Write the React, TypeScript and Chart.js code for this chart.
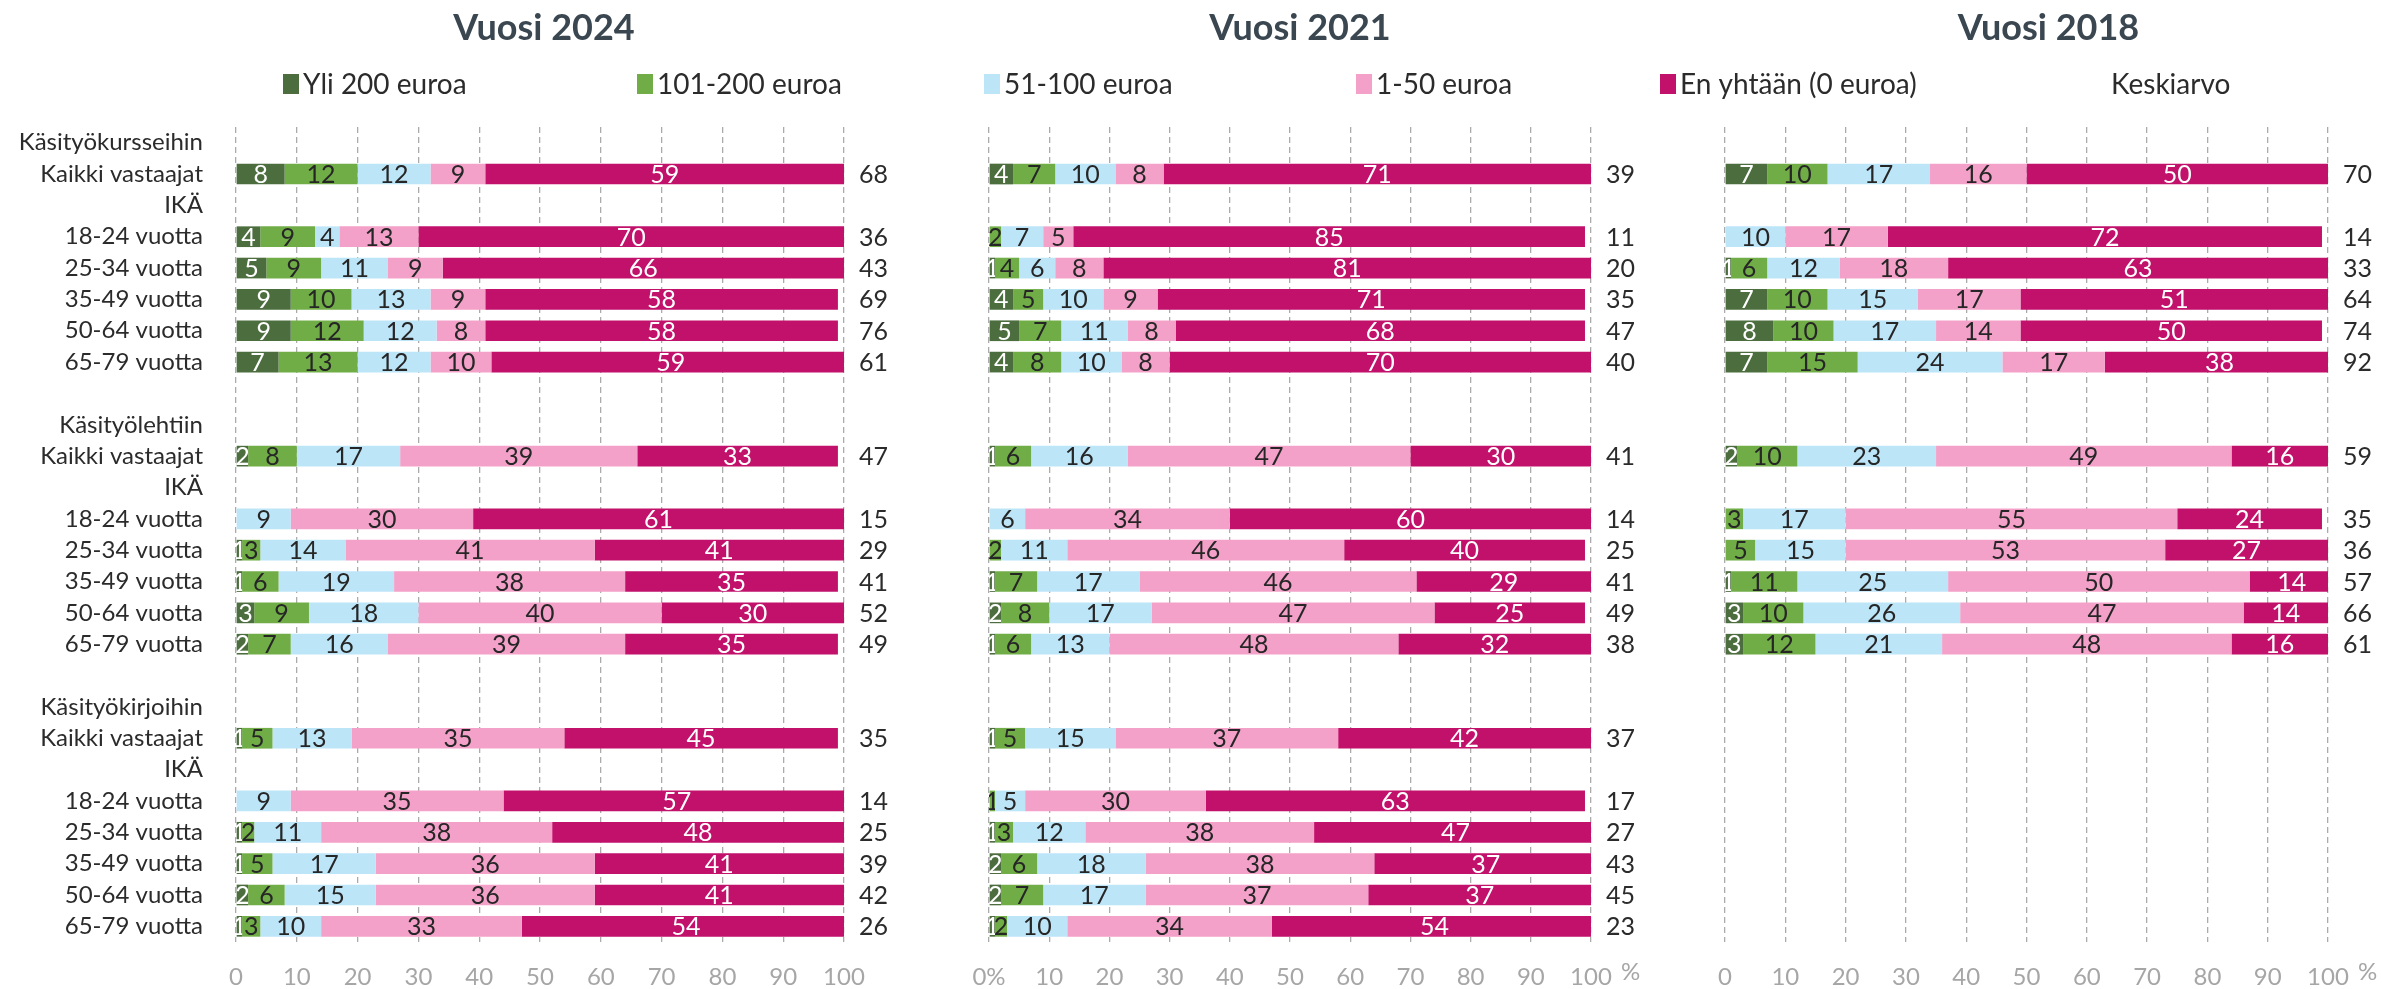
import React, { useEffect, useRef } from 'react';
import { Chart, registerables } from 'chart.js';

Chart.register(...registerables);

// ---------- data ----------
const categories = [
  'Käsityökursseihin', 'Kaikki vastaajat', 'IKÄ', '18-24 vuotta', '25-34 vuotta', '35-49 vuotta', '50-64 vuotta', '65-79 vuotta',
  '',
  'Käsityölehtiin', 'Kaikki vastaajat', 'IKÄ', '18-24 vuotta', '25-34 vuotta', '35-49 vuotta', '50-64 vuotta', '65-79 vuotta',
  '',
  'Käsityökirjoihin', 'Kaikki vastaajat', 'IKÄ', '18-24 vuotta', '25-34 vuotta', '35-49 vuotta', '50-64 vuotta', '65-79 vuotta',
];

const seriesNames = ['Yli 200 euroa', '101-200 euroa', '51-100 euroa', '1-50 euroa', 'En yhtään (0 euroa)'];
const meanLabel = 'Keskiarvo';
const yearTitles = ['Vuosi 2024', 'Vuosi 2021', 'Vuosi 2018'];
const tickValues = [0, 10, 20, 30, 40, 50, 60, 70, 80, 90, 100];

const n = null;
// Vuosi 2024
const over200_2024 = [n, 8, n, 4, 5, 9, 9, 7, n, n, 2, n, 0, 1, 1, 3, 2, n, n, 1, n, 0, 1, 1, 2, 1];
const e101_200_2024 = [n, 12, n, 9, 9, 10, 12, 13, n, n, 8, n, 0, 3, 6, 9, 7, n, n, 5, n, 0, 2, 5, 6, 3];
const e51_100_2024 = [n, 12, n, 4, 11, 13, 12, 12, n, n, 17, n, 9, 14, 19, 18, 16, n, n, 13, n, 9, 11, 17, 15, 10];
const e1_50_2024 = [n, 9, n, 13, 9, 9, 8, 10, n, n, 39, n, 30, 41, 38, 40, 39, n, n, 35, n, 35, 38, 36, 36, 33];
const zero_2024 = [n, 59, n, 70, 66, 58, 58, 59, n, n, 33, n, 61, 41, 35, 30, 35, n, n, 45, n, 57, 48, 41, 41, 54];
const mean_2024 = [n, 68, n, 36, 43, 69, 76, 61, n, n, 47, n, 15, 29, 41, 52, 49, n, n, 35, n, 14, 25, 39, 42, 26];

// Vuosi 2021
const over200_2021 = [n, 4, n, 0, 1, 4, 5, 4, n, n, 1, n, 0, 0, 1, 2, 1, n, n, 1, n, 0, 1, 2, 2, 1];
const e101_200_2021 = [n, 7, n, 2, 4, 5, 7, 8, n, n, 6, n, 0, 2, 7, 8, 6, n, n, 5, n, 1, 3, 6, 7, 2];
const e51_100_2021 = [n, 10, n, 7, 6, 10, 11, 10, n, n, 16, n, 6, 11, 17, 17, 13, n, n, 15, n, 5, 12, 18, 17, 10];
const e1_50_2021 = [n, 8, n, 5, 8, 9, 8, 8, n, n, 47, n, 34, 46, 46, 47, 48, n, n, 37, n, 30, 38, 38, 37, 34];
const zero_2021 = [n, 71, n, 85, 81, 71, 68, 70, n, n, 30, n, 60, 40, 29, 25, 32, n, n, 42, n, 63, 47, 37, 37, 54];
const mean_2021 = [n, 39, n, 11, 20, 35, 47, 40, n, n, 41, n, 14, 25, 41, 49, 38, n, n, 37, n, 17, 27, 43, 45, 23];

// Vuosi 2018
const over200_2018 = [n, 7, n, 0, 1, 7, 8, 7, n, n, 2, n, 0, 0, 1, 3, 3, n, n, n, n, n, n, n, n, n];
const e101_200_2018 = [n, 10, n, 0, 6, 10, 10, 15, n, n, 10, n, 3, 5, 11, 10, 12, n, n, n, n, n, n, n, n, n];
const e51_100_2018 = [n, 17, n, 10, 12, 15, 17, 24, n, n, 23, n, 17, 15, 25, 26, 21, n, n, n, n, n, n, n, n, n];
const e1_50_2018 = [n, 16, n, 17, 18, 17, 14, 17, n, n, 49, n, 55, 53, 50, 47, 48, n, n, n, n, n, n, n, n, n];
const zero_2018 = [n, 50, n, 72, 63, 51, 50, 38, n, n, 16, n, 24, 27, 14, 14, 16, n, n, n, n, n, n, n, n, n];
const mean_2018 = [n, 70, n, 14, 33, 64, 74, 92, n, n, 59, n, 35, 36, 57, 66, 61, n, n, n, n, n, n, n, n, n];

const panelSeries = [
  [over200_2024, e101_200_2024, e51_100_2024, e1_50_2024, zero_2024],
  [over200_2021, e101_200_2021, e51_100_2021, e1_50_2021, zero_2021],
  [over200_2018, e101_200_2018, e51_100_2018, e1_50_2018, zero_2018],
];
const panelMeans = [mean_2024, mean_2021, mean_2018];

// ---------- styles / layout ----------
const W = 2382;
const H = 989;
const FONT = 'Lato, "Open Sans", sans-serif';
const seriesColors = ['#4C6E3E', '#70AD47', '#BDE5F8', '#F4A1C9', '#C1116B'];
const labelColors = ['#FFFFFF', '#262626', '#262626', '#262626', '#FFFFFF'];
const textColor = '#2B2B2B';
const tickColor = '#A6A6A6';
const gridColor = '#ABABAB';
const titleColor = '#3A4751';

const plotTop = 127;
const xAxisHeight = 47;
const panelLayout = [
  { left: 236, right: 844, showRows: true, zeroTick: '0', pct: false, titleDx: 4 },
  { left: 989, right: 1591, showRows: false, zeroTick: '0%', pct: true, titleDx: 10 },
  { left: 1725, right: 2328, showRows: false, zeroTick: '0', pct: true, titleDx: 22 },
];
const legendMarkerX = [283, 637, 984, 1356, 1660];
const legendMeanX = 2111;
const legendY = 84;

function makeConfig(k: number): any {
  const lay = panelLayout[k];
  const series = panelSeries[k];
  const means = panelMeans[k];

  const plugin = {
    id: 'extras' + k,
    afterDatasetDraw(chart: any, args: any) {
      const i = args.index;
      const ds = chart.data.datasets[i];
      const ctx = chart.ctx;
      const area = chart.chartArea;
      ctx.save();
      ctx.font = `25px ${FONT}`;
      ctx.fillStyle = labelColors[i];
      ctx.textAlign = 'center';
      ctx.textBaseline = 'middle';
      args.meta.data.forEach((el: any, j: number) => {
        const v = ds.data[j];
        if (v == null || v === 0) return;
        const p = el.getProps(['x', 'base', 'y', 'height'], true);
        ctx.save();
        ctx.beginPath();
        const right = Math.min(p.x, area.right);
        ctx.rect(area.left, p.y - p.height / 2, right - area.left, p.height);
        ctx.clip();
        ctx.fillText(String(v), (p.x + p.base) / 2, p.y + 1);
        ctx.restore();
      });
      ctx.restore();
    },
    afterDraw(chart: any) {
      const ctx = chart.ctx;
      const area = chart.chartArea;
      const yScale = chart.scales.y;
      ctx.save();
      // mean values
      ctx.font = `25px ${FONT}`;
      ctx.fillStyle = textColor;
      ctx.textAlign = 'left';
      ctx.textBaseline = 'middle';
      means.forEach((v, j) => {
        if (v == null) return;
        ctx.fillText(String(v), area.right + 15, yScale.getPixelForValue(j) + 1);
      });
      // percent sign after 100
      if (lay.pct) {
        ctx.font = `24px ${FONT}`;
        ctx.fillStyle = tickColor;
        ctx.fillText('%', area.right + 30, 972);
      }
      // year title
      ctx.font = `bold 36px ${FONT}`;
      ctx.fillStyle = titleColor;
      ctx.textAlign = 'center';
      ctx.fillText(yearTitles[k], (area.left + area.right) / 2 + lay.titleDx, 28);
      // legend (drawn once)
      if (k === 0) {
        ctx.font = `28px ${FONT}`;
        ctx.textAlign = 'left';
        seriesNames.forEach((name, i) => {
          ctx.fillStyle = seriesColors[i];
          ctx.fillRect(legendMarkerX[i], legendY - 10, 16, 20);
          ctx.fillStyle = textColor;
          ctx.fillText(name, legendMarkerX[i] + 20, legendY + 1);
        });
        ctx.fillText(meanLabel, legendMeanX, legendY + 1);
      }
      ctx.restore();
    },
  };

  return {
    type: 'bar',
    data: {
      labels: categories,
      datasets: series.map((d, i) => ({
        label: seriesNames[i],
        data: d,
        backgroundColor: seriesColors[i],
        borderWidth: 0,
        barPercentage: 0.66,
        categoryPercentage: 1,
      })),
    },
    options: {
      indexAxis: 'y',
      animation: false,
      responsive: false,
      maintainAspectRatio: false,
      devicePixelRatio: 1,
      events: [],
      layout: {
        padding: { top: plotTop, bottom: 0, left: 0, right: W - lay.right },
      },
      plugins: {
        legend: { display: false },
        title: { display: false },
        tooltip: { enabled: false },
      },
      scales: {
        x: {
          type: 'linear',
          stacked: true,
          min: 0,
          max: 100,
          afterFit: (s: any) => { s.height = xAxisHeight; },
          afterBuildTicks: (s: any) => { s.ticks = tickValues.map((v) => ({ value: v })); },
          ticks: {
            color: tickColor,
            font: { family: FONT, size: 24 },
            padding: 21,
            maxRotation: 0,
            callback: (v: any) => (v === 0 ? lay.zeroTick : String(v)),
          },
          grid: {
            color: gridColor,
            lineWidth: 1.3,
            drawTicks: false,
            borderDash: [6, 4],
          },
          border: { display: false, dash: [6, 4] },
        },
        y: {
          type: 'category',
          stacked: true,
          afterFit: (s: any) => { s.width = lay.left; },
          ticks: {
            display: lay.showRows,
            autoSkip: false,
            color: textColor,
            font: { family: FONT, size: 24 },
            padding: 25,
          },
          grid: { display: false },
          border: { display: false },
        },
      },
    },
    plugins: [plugin],
  };
}

export default function App() {
  const r0 = useRef<HTMLCanvasElement>(null);
  const r1 = useRef<HTMLCanvasElement>(null);
  const r2 = useRef<HTMLCanvasElement>(null);
  const refs = [r0, r1, r2];

  useEffect(() => {
    const charts = refs.map((r, k) => new Chart(r.current as HTMLCanvasElement, makeConfig(k)));
    return () => charts.forEach((c) => c.destroy());
  }, []);

  return (
    <div style={{ position: 'fixed', left: 0, top: 0, width: W, height: H, background: '#ffffff' }}>
      {refs.map((r, k) => (
        <canvas
          key={k}
          ref={r}
          width={W}
          height={H}
          style={{ position: 'absolute', left: 0, top: 0, width: W, height: H }}
        />
      ))}
    </div>
  );
}
